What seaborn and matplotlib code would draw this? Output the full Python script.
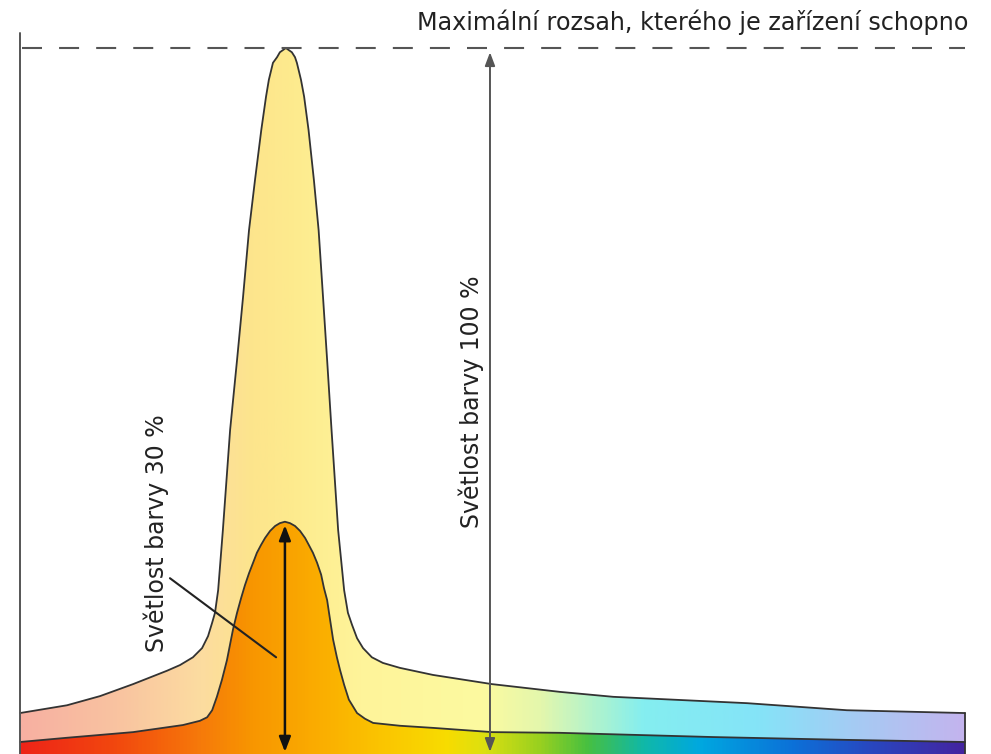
"""
Světlost barvy – maximální rozsah zařízení vs. 30 % světlosti.
Výstup: out.png (991x754)
"""

import numpy as np
import pandas as pd
import matplotlib.pyplot as plt
from matplotlib.colors import LinearSegmentedColormap
import seaborn as sns

sns.set_theme(style="white")
plt.rcParams["font.family"] = ["DejaVu Sans"]

# ── Data (vlnová délka v nm, světlost v % maxima) ─────────────────────────────
vlna_100 = [700.0, 685.1, 674.6, 664.1, 653.3, 649.2, 645.1, 642.2, 640.3,
            639.0, 638.1, 637.1, 635.6, 633.3, 631.1, 629.2, 627.3, 625.4,
            623.4, 621.9, 621.0, 619.7, 618.4, 617.5, 615.6, 613.7, 612.7,
            612.1, 610.8, 609.8, 608.4, 606.7, 605.2, 603.8, 602.5, 601.1,
            599.0, 597.1, 595.9, 594.6, 593.0, 591.1, 588.3, 584.8, 579.4,
            568.9, 550.2, 528.6, 511.7, 469.2, 437.5, 400.0]
svetlost_100 = [5.8, 6.9, 8.2, 9.9, 11.8, 12.6, 13.7, 15.0, 16.7,
                18.6, 20.0, 23.2, 31.7, 45.9, 55.8, 64.7, 74.2, 81.3,
                88.4, 93.1, 95.5, 97.9, 98.7, 99.4, 100.0, 99.4, 98.7,
                97.9, 95.5, 93.1, 88.4, 81.3, 74.2, 64.7, 55.8, 45.9,
                31.7, 23.2, 20.0, 18.3, 16.4, 15.0, 13.7, 12.9, 12.2,
                11.2, 9.9, 8.8, 8.1, 7.2, 6.2, 5.8]

vlna_30 = [700.0, 685.1, 664.1, 648.3, 642.9, 640.6, 639.0, 637.5, 635.9,
           634.3, 632.4, 631.1, 629.8, 628.6, 627.3, 626.0, 624.8, 623.5,
           622.2, 620.6, 619.0, 617.5, 615.9, 614.3, 612.7, 611.1, 609.5,
           608.3, 607.0, 605.7, 604.4, 603.5, 602.5, 601.9, 600.6, 599.4,
           598.4, 597.1, 595.6, 593.0, 590.5, 587.9, 579.4, 568.9, 550.2,
           528.6, 480.0, 437.5, 400.0]
svetlost_30 = [1.7, 2.3, 3.1, 4.1, 4.7, 5.2, 6.2, 8.1, 10.5,
               13.3, 17.6, 20.0, 22.1, 23.9, 25.6, 27.1, 28.5, 29.6,
               30.6, 31.6, 32.3, 32.7, 32.9, 32.7, 32.3, 31.6, 30.6,
               29.6, 28.5, 27.1, 25.4, 23.5, 21.8, 20.0, 16.2, 13.7,
               11.9, 9.8, 7.7, 5.8, 5.0, 4.4, 4.0, 3.7, 3.1,
               3.0, 2.4, 2.0, 1.7]

df_100 = pd.DataFrame({"vlna": vlna_100, "svetlost": svetlost_100})
df_30 = pd.DataFrame({"vlna": vlna_30, "svetlost": svetlost_30})

# ── Barevné přechody (spektrum) ──────────────────────────────────────────────
pastel = LinearSegmentedColormap.from_list("pastel", [
    (0.00, "#f7b0a2"), (0.10, "#f9c3a0"), (0.19, "#fcdca0"), (0.245, "#fde58c"),
    (0.29, "#fdeb8e"), (0.36, "#fff49a"), (0.49, "#fcfaa0"), (0.55, "#e4f7ac"),
    (0.62, "#a6f2d4"), (0.66, "#84eef0"), (0.78, "#84e4f8"), (0.88, "#a4ccf4"),
    (1.00, "#c4b4ee"),
])
syte = LinearSegmentedColormap.from_list("syte", [
    (0.00, "#ee2418"), (0.10, "#f2480e"), (0.19, "#f67a0a"), (0.245, "#f89600"),
    (0.30, "#faa800"), (0.38, "#fbc400"), (0.45, "#f8dc00"), (0.49, "#dde010"),
    (0.55, "#98d020"), (0.60, "#48c040"), (0.66, "#10b8a8"), (0.72, "#00a8e0"),
    (0.82, "#0c70d8"), (0.90, "#2848c0"), (1.00, "#4424a0"),
])

# ── Graf ─────────────────────────────────────────────────────────────────────
fig = plt.figure(figsize=(9.91, 7.54), dpi=100)
ax = fig.add_axes([0, 0, 1, 1])

grad = np.linspace(0, 1, 800).reshape(1, -1)
for d, cmap, z in [(df_100, pastel, 1), (df_30, syte, 3)]:
    poly = ax.fill_between(d["vlna"], 0, d["svetlost"], facecolor="none",
                           edgecolor="none", zorder=z)
    im = ax.imshow(grad, extent=[700, 400, 0, 101], aspect="auto", cmap=cmap,
                   interpolation="bilinear", zorder=z)
    im.set_clip_path(poly.get_paths()[0], transform=ax.transData)

sns.lineplot(data=df_100, x="vlna", y="svetlost", sort=False, estimator=None,
             color="#333333", linewidth=1.3, ax=ax, zorder=2)
sns.lineplot(data=df_30, x="vlna", y="svetlost", sort=False, estimator=None,
             color="#333333", linewidth=1.3, ax=ax, zorder=4)

# okraje
ax.plot([700, 700], [0, 102.1], color="#555555", lw=1.4, zorder=5)
ax.plot([400, 400], [0, svetlost_100[-1]], color="#333333", lw=1.3, zorder=5)
ax.plot([699.4, 400], [100, 100], color="#555555", lw=1.5,
        dashes=(9.6, 8.2), zorder=5)

# šipky
ax.annotate("", xy=(550.8, 99.4), xytext=(550.8, 0.3),
            arrowprops=dict(arrowstyle="<|-|>,head_length=0.8,head_width=0.3",
                            mutation_scale=10, color="#555555", lw=1.4,
                            shrinkA=0, shrinkB=0), zorder=6)
ax.annotate("", xy=(615.9, 32.4), xytext=(615.9, 0.3),
            arrowprops=dict(arrowstyle="<|-|>,head_length=0.9,head_width=0.35",
                            mutation_scale=10, color="#111111", lw=1.8,
                            shrinkA=0, shrinkB=0), zorder=6)
ax.plot([652.4, 618.7], [24.9, 13.7], color="#222222", lw=1.5, zorder=6)

# popisky
ax.text(399.0, 102.6, "Maximální rozsah, kterého je zařízení schopno",
        ha="right", va="baseline", fontsize=17.2, color="#222222")
ax.text(556.8, 49.9, "Světlost barvy 100 %", rotation=90, ha="center",
        va="center", fontsize=17, color="#222222")
ax.text(656.8, 31.3, "Světlost barvy 30 %", rotation=90, ha="center",
        va="center", fontsize=17, color="#222222")

ax.set_xlim(706.35, 391.75)
ax.set_ylim(0, 106.8)
ax.axis("off")

fig.savefig("out.png", dpi=100, facecolor="white")
plt.close(fig)
